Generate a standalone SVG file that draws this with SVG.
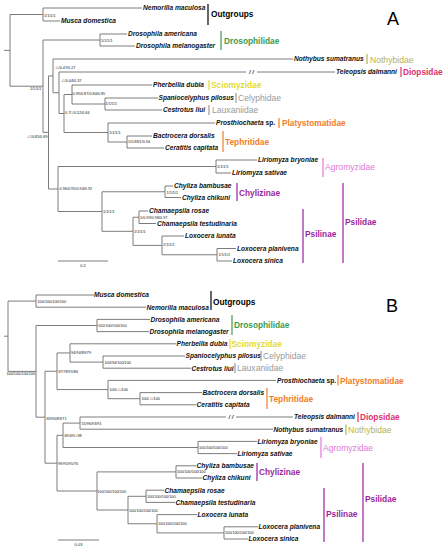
<svg xmlns="http://www.w3.org/2000/svg" width="446" height="550" viewBox="0 0 446 550">
<style>
.br{fill:none;stroke:#6e6e6e;stroke-width:0.9}
.sp{font-family:"Liberation Sans",Arial,sans-serif;font-size:6.6px;font-weight:bold;font-style:italic;fill:#111}
.sup{font-family:"Liberation Sans",Arial,sans-serif;font-size:3.8px;fill:#222}
.fam{font-family:"Liberation Sans",Arial,sans-serif;font-size:8.3px;font-weight:bold}
.famn{font-family:"Liberation Sans",Arial,sans-serif;font-size:8.6px}
.bar{stroke-width:1.2}
.brk{font-family:"Liberation Sans",Arial,sans-serif;font-size:6px;font-style:italic;font-weight:bold;fill:#333;text-anchor:middle}
.pl{font-family:"Liberation Sans",Arial,sans-serif;font-size:18px;fill:#000}
.sc{font-family:"Liberation Sans",Arial,sans-serif;font-size:4px;fill:#222;text-anchor:middle}
</style>
<rect width="446" height="550" fill="#fff"/>
<g id="connectors">
<path class="br" d="M4,50.4H10M10,14.5V86.2M10,14.5H43M43,8V21M43,8H142M43,21H60M10,86.2H43M43,40V132.4M43,40H100M100,34V46M100,34H127M100,46H135M43,132.4H48.5M48.5,75.9V189M48.5,75.9H53M53,59V92.75M53,59H293M53,92.75H59M59,72V113.5M59,72H246M257,72H335M59,113.5H64M64,94.5V132.5M64,94.5H72M72,85V104M72,85H152M72,104H105M105,98V110M105,98H158M105,110H162M64,132.5H108M108,123V142M108,123H215M108,142H127M127,136V148M127,136H152M127,148H164M48.5,189H58M58,166.5V211.5M58,166.5H216M216,160V173M216,160H257M216,173H231M58,211.5H102M102,191.75V231.3M102,191.75H165M165,186V197.5M165,186H173M165,197.5H181M102,231.3H133M133,217.25V245.4M133,217.25H139M139,211V223.5M139,211H148M139,223.5H156M133,245.4H162M162,236V254.75M162,236H184M162,254.75H217M217,248.5V261M217,248.5H236M217,261H232"/>
<path class="br" d="M4,336.2H8M8,301.1V371.4M8,301.1H36M36,295V307.2M36,295H94M36,307.2H146M8,371.4H36M36,325.5V417.2M36,325.5H97M97,319.4V331.6M97,319.4H150M97,331.6H149M36,417.2H45M45,371.25V463.2M45,371.25H57M57,352.95V389.55M57,352.95H70M70,343.8V362.1M70,343.8H176M70,362.1H103M103,356V368.2M103,356H185M103,368.2H191M57,389.55H108M108,380.4V398.7M108,380.4H276M108,398.7H140M140,392.6V404.8M140,392.6H202M140,404.8H196M45,463.2H57M57,435.3V491M57,435.3H63M63,423.1V447.5M63,423.1H80M80,417V429.2M80,417H226M236,417H293M80,429.2H273M63,447.5H198M198,441.4V453.6M198,441.4H257M198,453.6H237M57,491H97M97,471.9V510M97,471.9H176M176,465.8V478M176,465.8H196M176,478H202M97,510H128M128,496.3V523.75M128,496.3H146M146,490.2V502.4M146,490.2H164M146,502.4H175M128,523.75H157M157,514.6V532.9M157,514.6H197M157,532.9H224M224,526.8V539M224,526.8H258M224,539H248"/>
<text class="brk" x="251.5" y="74.2">/ /</text>
<text class="brk" x="231" y="419.2">/ /</text>
<path class="br" d="M58,261H108M58,540H99"/>
</g>
<g id="panel-A">
<text class="pl" x="387" y="25">A</text>
<text class="sc" x="83" y="267">0.2</text>
<g id="A-tips">
<text class="sp" x="143" y="10.3">Nemorilla maculosa</text>
<text class="sp" x="61" y="23.3">Musca domestica</text>
<text class="sp" x="128" y="36.3">Drosophila americana</text>
<text class="sp" x="136" y="48.3">Drosophila melanogaster</text>
<text class="sp" x="294" y="61.3">Nothybus sumatranus</text>
<text class="sp" x="336" y="74.3">Teleopsis dalmanni</text>
<text class="sp" x="153" y="87.3">Pherbellia dubia</text>
<text class="sp" x="158.5" y="100.3">Spaniocelyphus pilosus</text>
<text class="sp" x="163" y="112.3">Cestrotus liui</text>
<text class="sp" x="216" y="125.3">Prosthiochaeta <tspan font-style="normal">sp.</tspan></text>
<text class="sp" x="153" y="138.3">Bactrocera dorsalis</text>
<text class="sp" x="165" y="150.3">Ceratitis capitata</text>
<text class="sp" x="258" y="162.3">Liriomyza bryoniae</text>
<text class="sp" x="232" y="175.3">Liriomyza sativae</text>
<text class="sp" x="174" y="188.3">Chyliza bambusae</text>
<text class="sp" x="182" y="199.8">Chyliza chikuni</text>
<text class="sp" x="149" y="213.3">Chamaepsila rosae</text>
<text class="sp" x="157" y="225.8">Chamaepsila testudinaria</text>
<text class="sp" x="185" y="238.3">Loxocera lunata</text>
<text class="sp" x="237" y="250.8">Loxocera planivena</text>
<text class="sp" x="233" y="263.3">Loxocera sinica</text>
</g>
<g id="A-support">
<text class="sup" x="44" y="17.4">1/1/1/1</text>
<text class="sup" x="101" y="42.4">1/1/1/1</text>
<text class="sup" x="41.5" y="90.4" text-anchor="end">1/1/1/1</text>
<text class="sup" x="55" y="69.4">-/-/0.47/0.27</text>
<text class="sup" x="61" y="82.4">-/-/0.44/0.37</text>
<text class="sup" x="72.5" y="95.4">0.99/0.87/0.84/0.85</text>
<text class="sup" x="105.5" y="105.4">1/1/1/1</text>
<text class="sup" x="65" y="114.4">0.7/-/0.52/0.66</text>
<text class="sup" x="109" y="134.4">1/1/1/1</text>
<text class="sup" x="128" y="143.4">1/0.88/1/0.94</text>
<text class="sup" x="47.5" y="138.4" text-anchor="end">-/-/0.85/0.89</text>
<text class="sup" x="59.5" y="190.4">0.96/0.95/0.94/0.92</text>
<text class="sup" x="217" y="168.4">1/1/1/1</text>
<text class="sup" x="166.5" y="194.4">1/1/1/1</text>
<text class="sup" x="103" y="213.4">1/1/1/1</text>
<text class="sup" x="140" y="219.4">1/0.99/0.98/0.97</text>
<text class="sup" x="134" y="233.4">1/1/1/1</text>
<text class="sup" x="163" y="246.4">1/1/1/1</text>
<text class="sup" x="218.5" y="256.4">1/1/1/1</text>
</g>
<g id="A-outgroups"><line class="bar" x1="208" y1="4" x2="208" y2="25" stroke="#000"/><text class="fam" x="211" y="17" fill="#000">Outgroups</text></g>
<g id="A-drosophilidae"><line class="bar" x1="221" y1="31" x2="221" y2="50" stroke="#3d9a4b"/><text class="fam" x="224" y="44" fill="#3d9a4b">Drosophilidae</text></g>
<g id="A-nothybidae"><line class="bar" x1="367" y1="54" x2="367" y2="64" stroke="#b3b356"/><text class="famn" x="370" y="62.5" fill="#b3b356">Nothybidae</text></g>
<g id="A-diopsidae"><line class="bar" x1="401" y1="67" x2="401" y2="77" stroke="#e0306c"/><text class="fam" x="403" y="75" fill="#e0306c">Diopsidae</text></g>
<g id="A-sciomyzidae"><line class="bar" x1="209" y1="80" x2="209" y2="90" stroke="#e3dc2e"/><text class="fam" x="211" y="88" fill="#e3dc2e">Sciomyzidae</text></g>
<g id="A-celyphidae"><line class="bar" x1="236" y1="93" x2="236" y2="103" stroke="#9a9a9a"/><text class="famn" x="238" y="101" fill="#9a9a9a">Celyphidae</text></g>
<g id="A-lauxaniidae"><line class="bar" x1="209" y1="105" x2="209" y2="115" stroke="#9a9a9a"/><text class="famn" x="212" y="113" fill="#9a9a9a">Lauxaniidae</text></g>
<g id="A-platystomatidae"><line class="bar" x1="279" y1="118" x2="279" y2="128" stroke="#f07d28"/><text class="fam" x="282" y="126" fill="#f07d28">Platystomatidae</text></g>
<g id="A-tephritidae"><line class="bar" x1="223" y1="131" x2="223" y2="152" stroke="#f07d28"/><text class="fam" x="225" y="145" fill="#f07d28">Tephritidae</text></g>
<g id="A-agromyzidae"><line class="bar" x1="323" y1="158" x2="323" y2="177" stroke="#e277d9"/><text class="famn" x="325" y="170" fill="#e277d9">Agromyzidae</text></g>
<g id="A-chylizinae"><line class="bar" x1="237" y1="183" x2="237" y2="201" stroke="#9b1f9e"/><text class="fam" x="239" y="196" fill="#9b1f9e">Chylizinae</text></g>
<g id="A-psilinae"><line class="bar" x1="303" y1="209" x2="303" y2="263" stroke="#9b1f9e"/><text class="fam" x="305" y="237" fill="#9b1f9e">Psilinae</text></g>
<g id="A-psilidae"><line class="bar" x1="343" y1="183" x2="343" y2="263" stroke="#9b1f9e"/><text class="fam" x="345" y="225" fill="#9b1f9e">Psilidae</text></g>
</g>
<g id="panel-B">
<text class="pl" x="386" y="312">B</text>
<text class="sc" x="78.5" y="546">0.03</text>
<g id="B-tips">
<text class="sp" x="94" y="297.3">Musca domestica</text>
<text class="sp" x="146.5" y="309.5">Nemorilla maculosa</text>
<text class="sp" x="150.5" y="321.7">Drosophila americana</text>
<text class="sp" x="149.5" y="333.9">Drosophila melanogaster</text>
<text class="sp" x="176.5" y="346.1">Pherbellia dubia</text>
<text class="sp" x="185.5" y="358.3">Spaniocelyphus pilosus</text>
<text class="sp" x="191.5" y="370.5">Cestrotus liui</text>
<text class="sp" x="277" y="382.7">Prosthiochaeta <tspan font-style="normal">sp.</tspan></text>
<text class="sp" x="202.5" y="394.9">Bactrocera dorsalis</text>
<text class="sp" x="196.5" y="407.1">Ceratitis capitata</text>
<text class="sp" x="294" y="419.3">Teleopsis dalmanni</text>
<text class="sp" x="273.5" y="431.5">Nothybus sumatranus</text>
<text class="sp" x="257.5" y="443.7">Liriomyza bryoniae</text>
<text class="sp" x="237.5" y="455.9">Liriomyza sativae</text>
<text class="sp" x="196.5" y="468.1">Chyliza bambusae</text>
<text class="sp" x="202.5" y="480.3">Chyliza chikuni</text>
<text class="sp" x="164.5" y="492.5">Chamaepsila rosae</text>
<text class="sp" x="175.5" y="504.7">Chamaepsila testudinaria</text>
<text class="sp" x="197.5" y="516.9">Loxocera lunata</text>
<text class="sp" x="258.5" y="529.1">Loxocera planivena</text>
<text class="sp" x="248.5" y="541.3">Loxocera sinica</text>
</g>
<g id="B-support">
<text class="sup" x="37.5" y="302.5">100/100/100/100</text>
<text class="sup" x="98" y="327">100/100/100/100</text>
<text class="sup" x="35" y="375" text-anchor="end">100/100/100/100</text>
<text class="sup" x="71" y="354.4">94/94/89/79</text>
<text class="sup" x="104.5" y="363.5">100/94/100/100</text>
<text class="sup" x="58" y="372.7">37/78/91/86</text>
<text class="sup" x="109.5" y="391">100/-/-/100</text>
<text class="sup" x="141.5" y="400.1">100/-/-/100</text>
<text class="sup" x="46.5" y="419.5">83/90/83/71</text>
<text class="sup" x="81.5" y="425.4">55/96/93/91</text>
<text class="sup" x="64.5" y="437.4">69/49/-/38</text>
<text class="sup" x="199" y="449">100/100/100/100</text>
<text class="sup" x="58" y="465.2">99/95/95/76</text>
<text class="sup" x="177" y="473.4">100/100/100/100</text>
<text class="sup" x="97.5" y="493.4">100/100/100/100</text>
<text class="sup" x="147" y="497.8">100/100/100/100</text>
<text class="sup" x="129" y="512.2">100/100/100/100</text>
<text class="sup" x="158" y="525.2">100/100/100/100</text>
<text class="sup" x="225" y="534.4">100/100/100/100</text>
</g>
<g id="B-outgroups"><line class="bar" x1="211" y1="291" x2="211" y2="310" stroke="#000"/><text class="fam" x="213" y="305" fill="#000">Outgroups</text></g>
<g id="B-drosophilidae"><line class="bar" x1="232" y1="315" x2="232" y2="335" stroke="#3d9a4b"/><text class="fam" x="234" y="328" fill="#3d9a4b">Drosophilidae</text></g>
<g id="B-sciomyzidae"><line class="bar" x1="230" y1="339" x2="230" y2="349" stroke="#e3dc2e"/><text class="fam" x="231.5" y="346.5" fill="#e3dc2e">Sciomyzidae</text></g>
<g id="B-celyphidae"><line class="bar" x1="261" y1="351" x2="261" y2="361" stroke="#9a9a9a"/><text class="famn" x="263" y="359" fill="#9a9a9a">Celyphidae</text></g>
<g id="B-lauxaniidae"><line class="bar" x1="235" y1="363" x2="235" y2="373" stroke="#9a9a9a"/><text class="famn" x="237" y="371.2" fill="#9a9a9a">Lauxaniidae</text></g>
<g id="B-platystomatidae"><line class="bar" x1="338" y1="375" x2="338" y2="385.5" stroke="#f07d28"/><text class="fam" x="340" y="383.5" fill="#f07d28">Platystomatidae</text></g>
<g id="B-tephritidae"><line class="bar" x1="267" y1="388" x2="267" y2="409" stroke="#f07d28"/><text class="fam" x="269" y="402" fill="#f07d28">Tephritidae</text></g>
<g id="B-diopsidae"><line class="bar" x1="358" y1="412" x2="358" y2="422" stroke="#e0306c"/><text class="fam" x="360" y="420" fill="#e0306c">Diopsidae</text></g>
<g id="B-nothybidae"><line class="bar" x1="346" y1="424.5" x2="346" y2="435" stroke="#b3b356"/><text class="famn" x="348" y="433" fill="#b3b356">Nothybidae</text></g>
<g id="B-agromyzidae"><line class="bar" x1="321" y1="437" x2="321" y2="458" stroke="#e277d9"/><text class="famn" x="323" y="451" fill="#e277d9">Agromyzidae</text></g>
<g id="B-chylizinae"><line class="bar" x1="257" y1="463" x2="257" y2="481" stroke="#9b1f9e"/><text class="fam" x="259" y="475" fill="#9b1f9e">Chylizinae</text></g>
<g id="B-psilinae"><line class="bar" x1="324" y1="488" x2="324" y2="542" stroke="#9b1f9e"/><text class="fam" x="326" y="517" fill="#9b1f9e">Psilinae</text></g>
<g id="B-psilidae"><line class="bar" x1="363" y1="463" x2="363" y2="542" stroke="#9b1f9e"/><text class="fam" x="365" y="502" fill="#9b1f9e">Psilidae</text></g>
</g>
</svg>
